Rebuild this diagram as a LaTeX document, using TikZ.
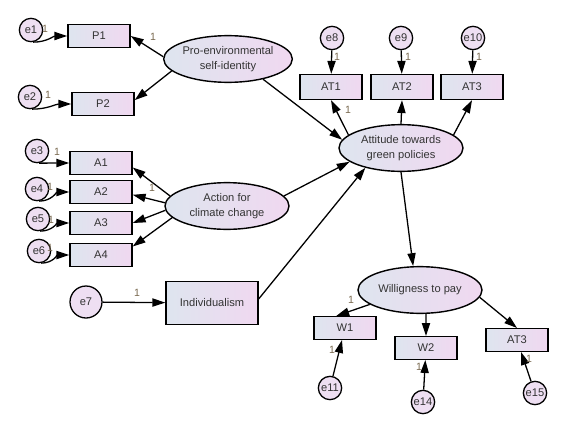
\documentclass[tikz,border=0pt]{standalone}
\usepackage{fontspec}
\setmainfont{Liberation Sans}
\usetikzlibrary{arrows.meta,shapes.geometric}
\definecolor{boxleft}{HTML}{DEE5EF}
\definecolor{boxright}{HTML}{F0D8F0}
\definecolor{errfill}{HTML}{EEDFF2}
\definecolor{txtcol}{HTML}{333333}
\definecolor{onecol}{HTML}{7A6A50}
\begin{document}
\begin{tikzpicture}[x=0.03cm,y=-0.03cm,
    font=\fontsize{9.5}{12.5}\selectfont,
    obs/.style={draw, line width=1.2pt, left color=boxleft, right color=boxright,
        minimum width=1.86cm, minimum height=0.68cm, inner sep=1pt, text=txtcol},
    lat/.style={ellipse, draw, line width=1.2pt, left color=boxleft, right color=boxright,
        minimum width=3.72cm, minimum height=1.4cm, inner sep=0pt, align=center, text=txtcol},
    err/.style={circle, draw, line width=1.1pt, fill=errfill, minimum size=0.7cm,
        inner sep=0pt, text=txtcol},
    arr/.style={-{Triangle[length=11pt,width=7pt]}, line width=1.1pt},
    one/.style={font=\fontsize{9}{10}\selectfont, text=onecol, inner sep=0pt}]
    \useasboundingbox[fill=white] (0,0) rectangle (565,420);

    % 潜变量
    \node[lat] (pro) at (228,59) {Pro-environmental\\self-identity};
    \node[lat] (act) at (227,206) {Action for\\climate change};
    \node[lat] (att) at (401,148) {Attitude towards\\green policies};
    \node[lat] (wil) at (420,290) {Willigness to pay};

    % 观测变量
    \node[obs] (P1) at (99,36) {P1};
    \node[obs] (P2) at (103,104) {P2};
    \foreach \n/\y in {1/163, 2/192, 3/223, 4/255} {
        \node[obs] (A\n) at (101,\y) {A\n};
    }
    \foreach \n/\x in {1/331, 2/402, 3/472} {
        \node[obs, minimum height=0.75cm] (AT\n) at (\x,87) {AT\n};
    }
    \node[obs] (W1) at (345,328) {W1};
    \node[obs] (W2) at (426,348) {W2};
    \node[obs] (W3) at (517,340) {AT3};
    \node[obs, minimum width=2.76cm, minimum height=1.29cm] (ind) at (212,303) {Individualism};

    % 误差项
    \foreach \e/\x/\y in {e1/31/30, e2/30/97, e3/37/151, e4/37/189, e5/38/219, e6/39/251,
        e8/332/38, e9/401/38, e10/473/38, e11/330/388, e14/423/402, e15/535/393} {
        \node[err] (\e) at (\x,\y) {\e};
    }
    \node[err, minimum size=0.96cm] (e7) at (86,302) {e7};

    % 误差 -> 指标
    \foreach \e/\b in {e1/P1, e2/P2, e3/A1, e4/A2, e5/A3, e6/A4} {
        \draw[arr] (\e.-80) to[out=0,in=180] (\b.west);
    }
    \draw[arr] (e7) -- (ind);
    \foreach \e/\b in {e8/AT1, e9/AT2, e10/AT3, e11/W1, e14/W2, e15/W3} {
        \draw[arr] (\e) -- (\b);
    }

    % 载荷
    \draw[arr] (pro.178) -- (P1.east);
    \draw[arr] (pro.192) -- (P2.7);
    \draw[arr] (act.170) -- (A1.-8);
    \draw[arr] (act.177) -- (A2.-5);
    \draw[arr] (act.184) -- (A3.0);
    \draw[arr] (act.192) -- (A4.15);
    \draw[arr] (att.166) -- (AT1.south);
    \draw[arr] (att.90) -- (AT2.south);
    \draw[arr] (att.14) -- (AT3.south);
    \draw[arr] (wil.196) -- (W1.126);
    \draw[arr] (wil.-76) -- (W2.north);
    \draw[arr] (wil.-7) -- (W3.north);

    % 结构路径
    \draw[arr] (pro.-30) -- (att.172);
    \draw[arr] (act.10) -- (att.195);
    \draw[arr] (ind.5) -- (att.209);
    \draw[arr] (att.south) -- (wil.106);

    % 固定系数 1
    \foreach \i/\x/\y in {1/45/29, 2/48/95, 3/57/152, 4/50/187, 5/51/220, 6/50/248,
        7/153/37, 8/152/188, 9/137/293, 10/337/57, 11/408/57, 12/479/57,
        13/348/110, 14/351/300, 15/332/350, 16/419/367, 17/529/359} {
        \node[one] (one\i) at (\x,\y) {1};
    }
\end{tikzpicture}
\end{document}
